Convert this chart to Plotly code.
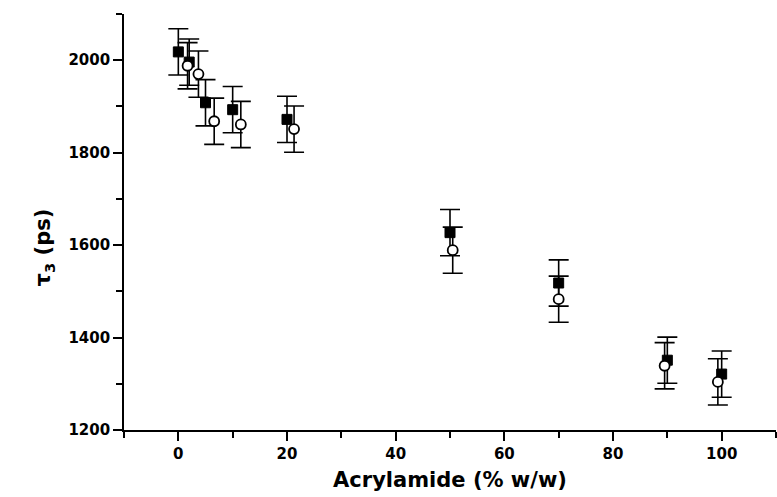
import plotly.graph_objects as go

# Filled squares series
sq_x = [0, 2, 5, 10, 20, 50, 70, 90, 100]
sq_y = [2018, 1996, 1908, 1893, 1872, 1627, 1518, 1351, 1321]
sq_err = [50, 50, 50, 50, 50, 50, 50, 50, 50]

# Open circles series
ci_x = [1.7, 3.7, 6.6, 11.5, 21.3, 50.5, 70, 89.5, 99.3]
ci_y = [1988, 1970, 1868, 1861, 1851, 1589, 1483, 1339, 1304]
ci_err = [50, 50, 50, 50, 50, 50, 50, 50, 50]

x_title = "Acrylamide (% w/w)"
y_title = "τ<sub>3</sub> (ps)"

FONT = "DejaVu Sans"

fig = go.Figure()
fig.add_trace(go.Scatter(
    x=sq_x, y=sq_y, mode="markers",
    marker=dict(symbol="square", size=10, color="black", line=dict(color="black", width=1)),
    error_y=dict(type="data", array=sq_err, visible=True, color="black", thickness=1.6, width=10),
    showlegend=False,
))
fig.add_trace(go.Scatter(
    x=ci_x, y=ci_y, mode="markers",
    marker=dict(symbol="circle", size=10, color="white", line=dict(color="black", width=1.8)),
    error_y=dict(type="data", array=ci_err, visible=True, color="black", thickness=1.6, width=10),
    showlegend=False,
))

fig.update_layout(
    width=777, height=497,
    margin=dict(l=124, r=1, t=14, b=67),
    paper_bgcolor="white", plot_bgcolor="white",
    font=dict(family=FONT, color="black"),
    xaxis=dict(
        range=[-10, 110], tick0=0, dtick=20,
        showgrid=False, zeroline=False,
        showline=True, linecolor="black", linewidth=1.6,
        ticks="outside", ticklen=9, tickwidth=1.6, tickcolor="black",
        tickfont=dict(family=FONT, size=15, weight="bold", color="black"),
        minor=dict(dtick=10, tick0=0, ticks="outside", ticklen=6, tickwidth=1.6, tickcolor="black", showgrid=False),
        title=dict(text=x_title, font=dict(family=FONT, size=21, weight="bold", color="black"), standoff=11),
    ),
    yaxis=dict(
        range=[1200, 2100], tick0=1200, dtick=200,
        showgrid=False, zeroline=False,
        showline=True, linecolor="black", linewidth=1.6,
        ticks="outside", ticklen=9, tickwidth=1.6, tickcolor="black",
        tickfont=dict(family=FONT, size=15, weight="bold", color="black"),
        minor=dict(dtick=100, tick0=1200, ticks="outside", ticklen=6, tickwidth=1.6, tickcolor="black", showgrid=False),
    ),
    annotations=[dict(
        text=y_title, xref="paper", yref="paper", x=-0.122, y=0.44,
        xanchor="center", yanchor="middle", textangle=-90, showarrow=False,
        font=dict(family=FONT, size=21, weight="bold", color="black"),
    )],
)

fig.write_html("out.html")
